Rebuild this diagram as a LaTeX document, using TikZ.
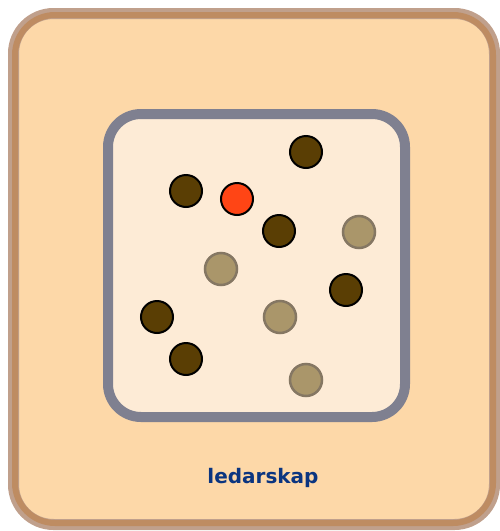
\documentclass[tikz,border=0pt]{standalone}
\usepackage{fontspec}
\setmainfont{DejaVu Sans}
\definecolor{outerfill}{HTML}{FDD8A8}
\definecolor{outerline}{HTML}{BE8C62}
\definecolor{outerhalo}{HTML}{C0A08C}
\definecolor{innerfill}{HTML}{FDEBD6}
\definecolor{innerline}{HTML}{7F8090}
\definecolor{darkdot}{HTML}{5A3E04}
\definecolor{reddot}{HTML}{FF4515}
\definecolor{lightdot}{HTML}{AA966A}
\definecolor{lightline}{HTML}{857763}
\definecolor{labelblue}{HTML}{0B3580}
\tikzset{
  dotdark/.style={circle,draw=black,line width=2pt,fill=darkdot,minimum size=32pt,inner sep=0pt},
  dotred/.style={circle,draw=black,line width=2pt,fill=reddot,minimum size=32pt,inner sep=0pt},
  dotlight/.style={circle,draw=lightline,line width=2.5pt,fill=lightdot,minimum size=32pt,inner sep=0pt},
}
\begin{document}
\begin{tikzpicture}[x=1pt,y=-1pt]
\useasboundingbox (0,0) rectangle (500,531);
% outer frame
\draw[outerhalo,line width=11pt,fill=outerfill,rounded corners=40pt] (13.5,13.5) rectangle (494.5,524.5);
\draw[outerline,line width=6pt,rounded corners=40pt] (15,15) rectangle (493,523);
% inner box
\draw[innerline,line width=10pt,fill=innerfill,rounded corners=33pt] (108,114) rectangle (405,417);
% dots
\node[dotdark] (d1) at (306,152) {};
\node[dotdark] (d2) at (186,191) {};
\node[dotred] (r1) at (237,199) {};
\node[dotdark] (d3) at (279,231) {};
\node[dotlight] (l1) at (359,232) {};
\node[dotlight] (l2) at (221,269) {};
\node[dotdark] (d4) at (346,290) {};
\node[dotdark] (d5) at (157,317) {};
\node[dotlight] (l3) at (280,317) {};
\node[dotdark] (d6) at (186,359) {};
\node[dotlight] (l4) at (306,380) {};
% label
\node[text=labelblue,font=\fontsize{20pt}{24pt}\selectfont\bfseries,anchor=base] (lbl) at (263,483) {ledarskap};
\end{tikzpicture}
\end{document}
